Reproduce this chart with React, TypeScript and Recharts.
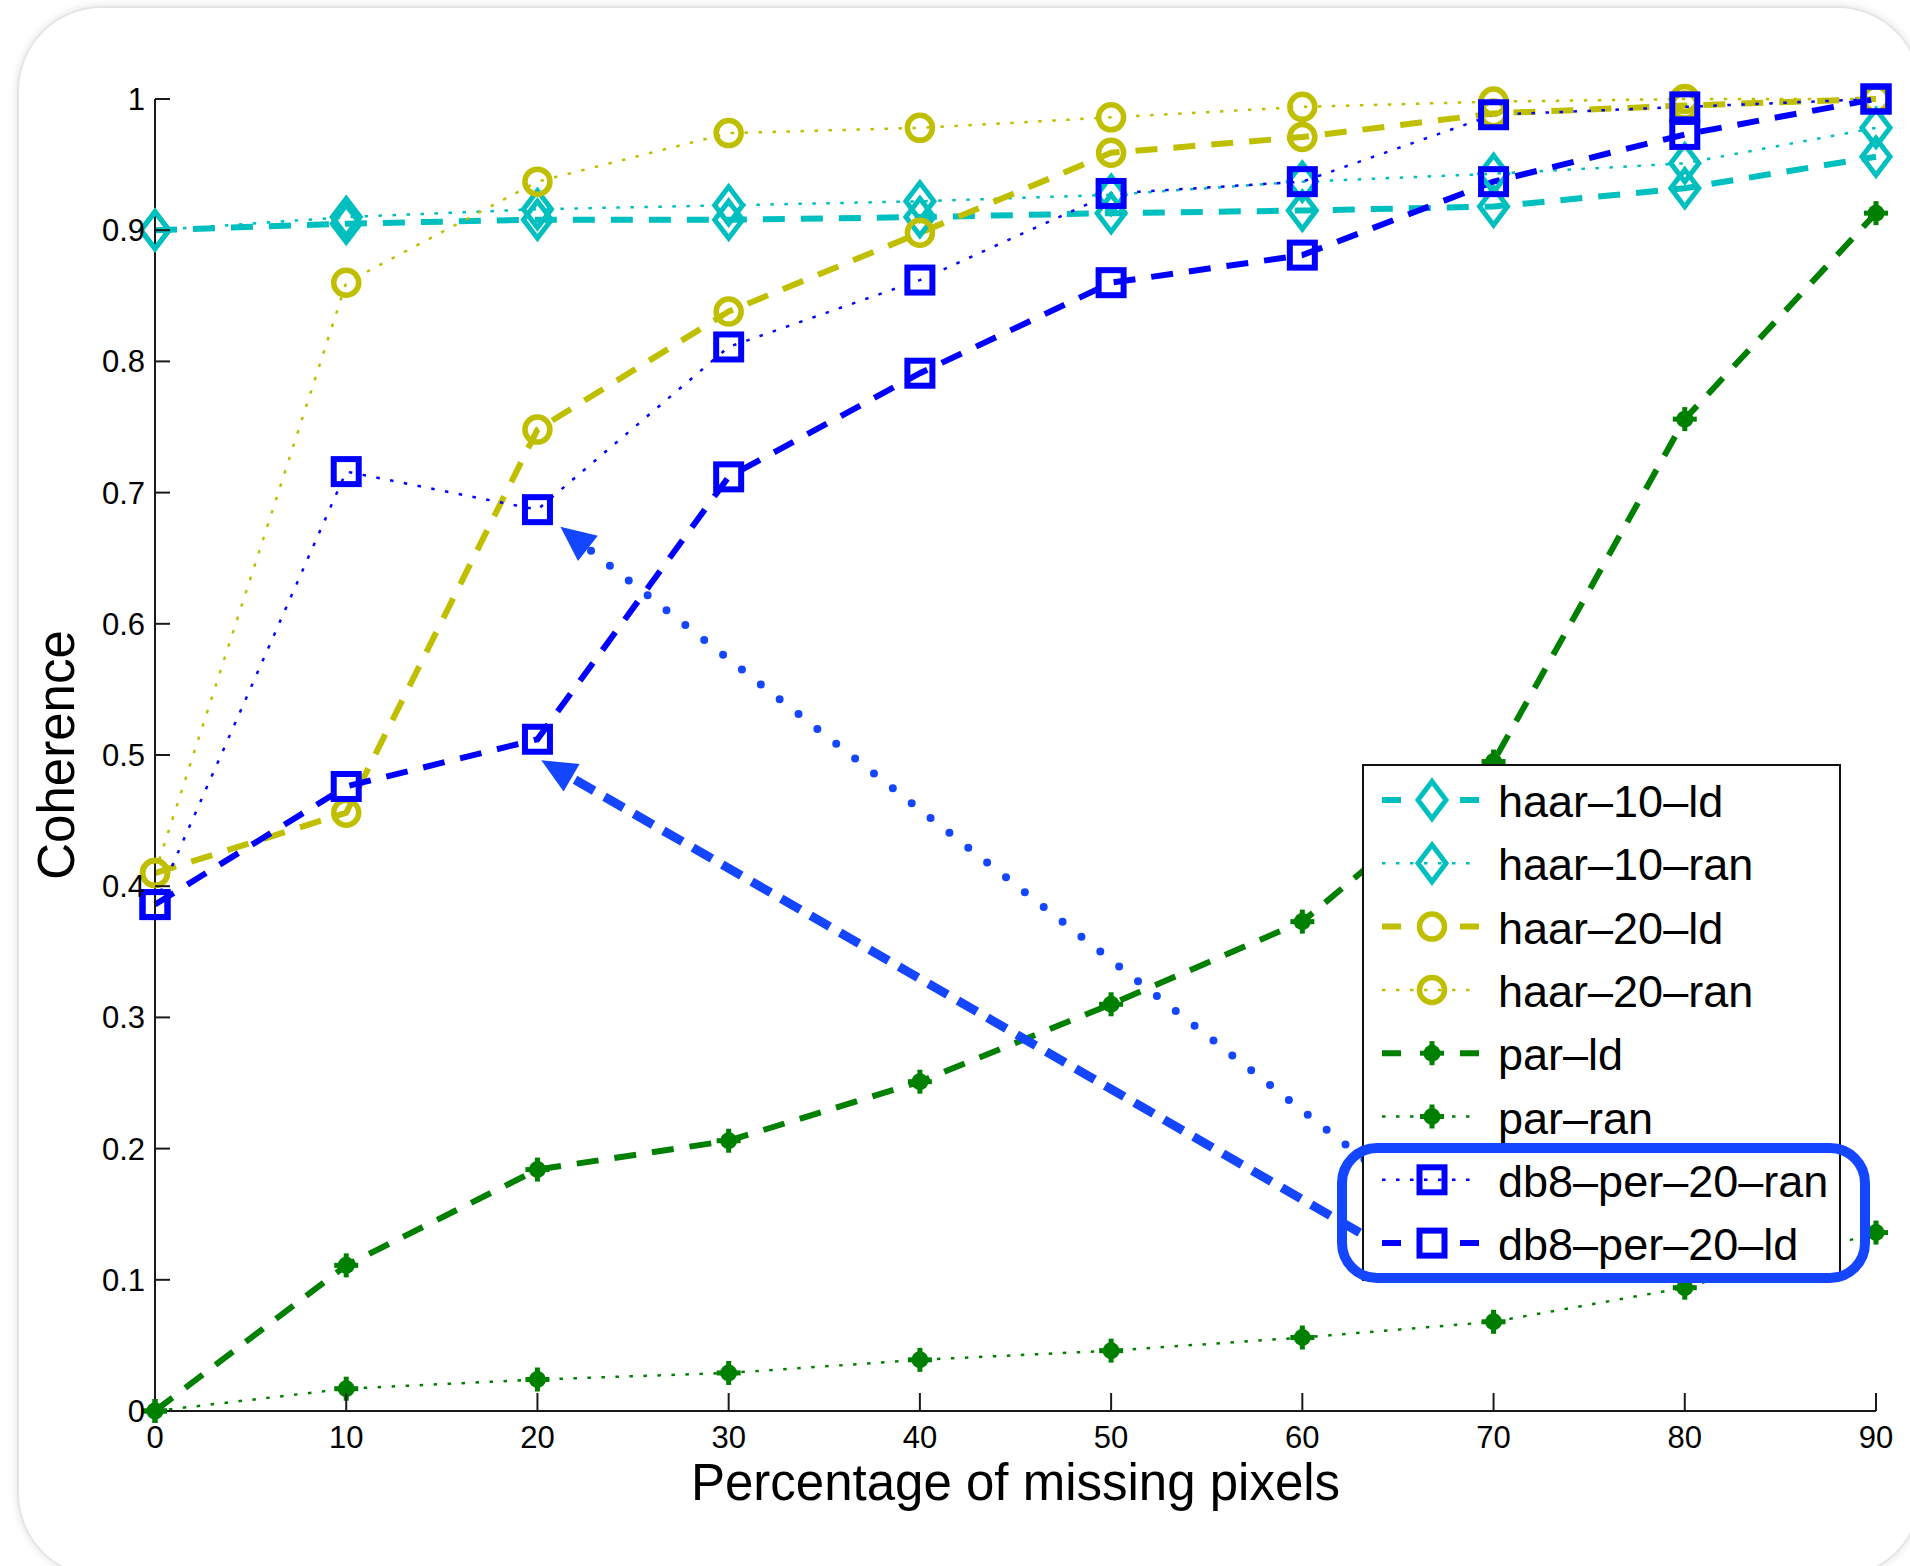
import React from 'react'
import { LineChart, Line, XAxis, YAxis, Legend, ReferenceLine } from 'recharts'

const FONT = '"Liberation Sans", Arial, Helvetica, sans-serif'

// percentage of missing pixels
const missing = [0, 10, 20, 30, 40, 50, 60, 70, 80, 90]

// coherence per method
const haar10Ld = [0.9, 0.905, 0.908, 0.908, 0.91, 0.913, 0.915, 0.918, 0.932, 0.956]
const haar10Ran = [0.9, 0.91, 0.916, 0.919, 0.922, 0.927, 0.937, 0.943, 0.951, 0.978]
const haar20Ld = [0.41, 0.456, 0.748, 0.838, 0.898, 0.959, 0.971, 0.989, 0.995, 1.0]
const haar20Ran = [0.41, 0.86, 0.937, 0.974, 0.978, 0.986, 0.994, 0.998, 1.0, 1.0]
const parLd = [0, 0.111, 0.184, 0.206, 0.251, 0.31, 0.373, 0.495, 0.756, 0.913]
const parRan = [0, 0.017, 0.024, 0.029, 0.039, 0.046, 0.056, 0.068, 0.094, 0.136]
const db8Ran = [0.386, 0.716, 0.687, 0.811, 0.862, 0.928, 0.937, 0.988, 0.994, 1.0]
const db8Ld = [0.386, 0.476, 0.512, 0.712, 0.791, 0.86, 0.881, 0.937, 0.973, 1.0]

const xTicks = [0, 10, 20, 30, 40, 50, 60, 70, 80, 90]
const yTicks = [0, 0.1, 0.2, 0.3, 0.4, 0.5, 0.6, 0.7, 0.8, 0.9, 1]
const yTickLabels = ['0', '0.1', '0.2', '0.3', '0.4', '0.5', '0.6', '0.7', '0.8', '0.9', '1']

// hand-drawn arrows (data coords: from tip to tail)
const arrowRan = [{ x: 21.2, y: 0.674 }, { x: 64.1, y: 0.182 }]
const arrowLd = [{ x: 20.2, y: 0.496 }, { x: 64.9, y: 0.12 }]

const CYAN = '#00bfbf'
const YELLOW = '#bfbf00'
const GREEN = '#008000'
const BLUE = '#0000ff'
const NOTE = '#1446ff'
const AXIS = '#1a1a1a'

const DASHED = '22 16'
const DOTTED = '3.5 10.5'

type MarkerKind = 'diamond' | 'circle' | 'square' | 'blob'

interface Series {
  key: string
  name: string
  values: number[]
  color: string
  dotted: boolean
  marker: MarkerKind
}

const series: Series[] = [
  { key: 'haar10Ld', name: 'haar–10–ld', values: haar10Ld, color: CYAN, dotted: false, marker: 'diamond' },
  { key: 'haar10Ran', name: 'haar–10–ran', values: haar10Ran, color: CYAN, dotted: true, marker: 'diamond' },
  { key: 'haar20Ld', name: 'haar–20–ld', values: haar20Ld, color: YELLOW, dotted: false, marker: 'circle' },
  { key: 'haar20Ran', name: 'haar–20–ran', values: haar20Ran, color: YELLOW, dotted: true, marker: 'circle' },
  { key: 'parLd', name: 'par–ld', values: parLd, color: GREEN, dotted: false, marker: 'blob' },
  { key: 'parRan', name: 'par–ran', values: parRan, color: GREEN, dotted: true, marker: 'blob' },
  { key: 'db8Ran', name: 'db8–per–20–ran', values: db8Ran, color: BLUE, dotted: true, marker: 'square' },
  { key: 'db8Ld', name: 'db8–per–20–ld', values: db8Ld, color: BLUE, dotted: false, marker: 'square' },
]

const rows = missing.map((x, i) => {
  const row: Record<string, number> = { x }
  series.forEach((s) => {
    row[s.key] = s.values[i]
  })
  return row
})

function Marker({ kind, cx, cy, color }: { kind: MarkerKind; cx: number; cy: number; color: string }) {
  if (kind === 'diamond') {
    return (
      <path
        d={`M${cx},${cy - 18.5}L${cx + 14},${cy}L${cx},${cy + 18.5}L${cx - 14},${cy}Z`}
        fill="none"
        stroke={color}
        strokeWidth={5}
      />
    )
  }
  if (kind === 'circle') {
    return <circle cx={cx} cy={cy} r={12.5} fill="none" stroke={color} strokeWidth={5.5} />
  }
  if (kind === 'square') {
    return <rect x={cx - 12.5} y={cy - 12.5} width={25} height={25} fill="none" stroke={color} strokeWidth={6} />
  }
  return (
    <g fill={color}>
      <circle cx={cx} cy={cy} r={8.5} />
      <rect x={cx - 2.5} y={cy - 12} width={5} height={24} />
      <rect x={cx - 12} y={cy - 2.5} width={24} height={5} />
    </g>
  )
}

const dotFor = (s: Series) => (p: any) => (
  <Marker key={`${s.key}-${p.index}`} kind={s.marker} cx={p.cx} cy={p.cy} color={s.color} />
)

function XTick({ x, y, payload }: any) {
  return (
    <g>
      {payload.value !== 0 && <line x1={x} x2={x} y1={y - 15} y2={y - 33} stroke={AXIS} strokeWidth={2} />}
      <text x={x} y={y} dy="0.71em" textAnchor="middle" fontSize={31} fontFamily={FONT} fill="#000">
        {payload.value}
      </text>
    </g>
  )
}

function YTick({ x, y, payload }: any) {
  const idx = yTicks.findIndex((t) => Math.abs(t - payload.value) < 1e-9)
  return (
    <g>
      {payload.value !== 0 && <line x1={x + 10} x2={x + 25} y1={y} y2={y} stroke={AXIS} strokeWidth={2} />}
      <text x={x} y={y} dy="0.355em" textAnchor="end" fontSize={31} fontFamily={FONT} fill="#000">
        {yTickLabels[idx]}
      </text>
    </g>
  )
}

function YTitle({ viewBox }: any) {
  const cx = viewBox.x + viewBox.width - 81
  const cy = viewBox.y + viewBox.height / 2
  return (
    <text x={cx} y={cy} transform={`rotate(-90 ${cx} ${cy})`} textAnchor="middle" fontSize={51} fontFamily={FONT} fill="#000">
      Coherence
    </text>
  )
}

function XTitle({ viewBox }: any) {
  const cx = viewBox.x + viewBox.width / 2
  return (
    <text x={cx} y={viewBox.y + 89} textAnchor="middle" fontSize={51} fontFamily={FONT} fill="#000">
      Percentage of missing pixels
    </text>
  )
}

const arrowShape = (dash: string, width: number, cap: 'round' | 'butt') => (p: any) => {
  const { x1, y1, x2, y2 } = p
  const dx = x2 - x1
  const dy = y2 - y1
  const len = Math.hypot(dx, dy) || 1
  const ux = dx / len
  const uy = dy / len
  const bx = x1 + ux * 35
  const by = y1 + uy * 35
  const pts = `${x1},${y1} ${bx - uy * 16},${by + ux * 16} ${bx + uy * 16},${by - ux * 16}`
  return (
    <g>
      <line x1={bx + ux * 4} y1={by + uy * 4} x2={x2} y2={y2} stroke={NOTE} strokeWidth={width} strokeDasharray={dash} strokeLinecap={cap} />
      <polygon points={pts} fill={NOTE} />
    </g>
  )
}

function LegendBox() {
  return (
    <div
      style={{
        position: 'relative',
        width: 479,
        height: 517,
        boxSizing: 'border-box',
        border: '2px solid #111',
        background: '#fff',
      }}
    >
      <svg width={479} height={517} style={{ position: 'absolute', left: -2, top: -2 }}>
        {series.map((s, i) => {
          const y = 36 + i * 63.3
          return (
            <g key={s.key}>
              <line
                x1={20}
                x2={117}
                y1={y}
                y2={y}
                stroke={s.color}
                strokeWidth={s.dotted ? 2.5 : 6}
                strokeDasharray={s.dotted ? DOTTED : '19 59'}
              />
              <Marker kind={s.marker} cx={70} cy={y} color={s.color} />
              <text x={136} y={y + 17} fontSize={45} fontFamily={FONT} fill="#000">
                {s.name}
              </text>
            </g>
          )
        })}
      </svg>
      <div
        style={{
          position: 'absolute',
          left: -27,
          top: 377,
          width: 533,
          height: 140,
          boxSizing: 'border-box',
          border: `10px solid ${NOTE}`,
          borderRadius: 40,
        }}
      />
    </div>
  )
}

export default function App() {
  return (
    <div style={{ position: 'relative', width: 1910, height: 1566, overflow: 'hidden', background: '#fff' }}>
      <style>{'body{margin:0;background:#fff}'}</style>
      <div
        style={{
          position: 'absolute',
          left: 17,
          top: 6,
          width: 1905,
          height: 1572,
          boxSizing: 'border-box',
          border: '2px solid #e4e4e4',
          borderRadius: 85,
          boxShadow: '0 0 8px rgba(0,0,0,0.12)',
        }}
      />
      <div style={{ position: 'absolute', left: 0, top: 0 }}>
        <LineChart width={1910} height={1566} data={rows} margin={{ top: 99, right: 34, left: 35, bottom: 35 }}>
          <XAxis
            type="number"
            dataKey="x"
            domain={[0, 90]}
            ticks={xTicks}
            interval={0}
            height={120}
            axisLine={{ stroke: AXIS, strokeWidth: 2 }}
            tickLine={false}
            tickSize={0}
            tickMargin={15}
            tick={(p: any) => <XTick {...p} />}
            label={(p: any) => <XTitle {...p} />}
          />
          <YAxis
            type="number"
            domain={[0, 1]}
            ticks={yTicks}
            interval={0}
            width={120}
            axisLine={{ stroke: AXIS, strokeWidth: 2 }}
            tickLine={false}
            tickSize={0}
            tickMargin={10}
            tick={(p: any) => <YTick {...p} />}
            label={(p: any) => <YTitle {...p} />}
          />
          {series.map((s) => (
            <Line
              key={s.key}
              type="linear"
              dataKey={s.key}
              name={s.name}
              stroke={s.color}
              strokeWidth={s.dotted ? 2.5 : 6}
              strokeDasharray={s.dotted ? DOTTED : DASHED}
              dot={dotFor(s)}
              activeDot={false}
              isAnimationActive={false}
            />
          ))}
          <ReferenceLine segment={arrowRan} ifOverflow="visible" shape={arrowShape('0 24', 8, 'round')} />
          <ReferenceLine segment={arrowLd} ifOverflow="visible" shape={arrowShape('22 12', 9, 'butt')} />
          <Legend
            layout="horizontal"
            verticalAlign="middle"
            align="center"
            width={479}
            height={517}
            wrapperStyle={{ left: 1362, top: 764, width: 479, height: 517 }}
            content={() => <LegendBox />}
          />
        </LineChart>
      </div>
    </div>
  )
}
